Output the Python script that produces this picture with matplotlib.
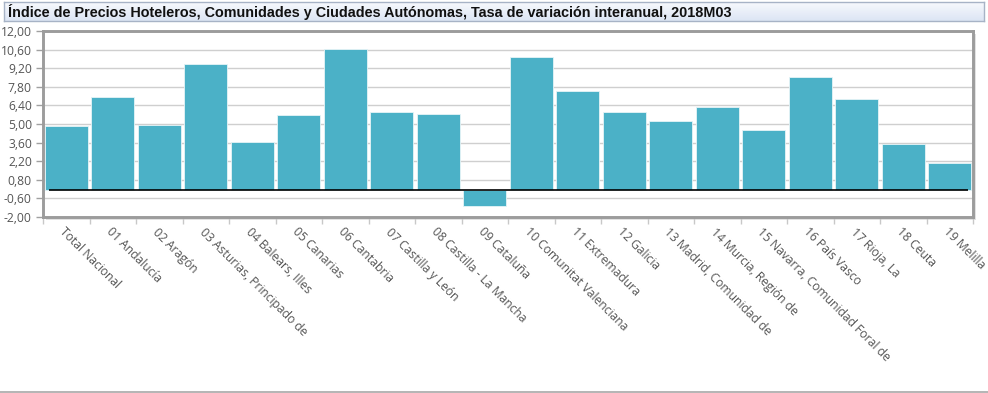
import numpy as np
import matplotlib
matplotlib.use('Agg')
import matplotlib.pyplot as plt
from matplotlib.patches import Rectangle
from matplotlib.ticker import FixedLocator
from matplotlib.colors import LinearSegmentedColormap

# data (tasa de variacion interanual, %)
regiones = ['Total Nacional', '01 Andalucía', '02 Aragón',
            '03 Asturias, Principado de', '04 Balears, Illes', '05 Canarias',
            '06 Cantabria', '07 Castilla y León', '08 Castilla - La Mancha',
            '09 Cataluña', '10 Comunitat Valenciana', '11 Extremadura',
            '12 Galicia', '13 Madrid, Comunidad de', '14 Murcia, Región de',
            '15 Navarra, Comunidad Foral de', '16 País Vasco', '17 Rioja, La',
            '18 Ceuta', '19 Melilla']
variacion = [4.83, 7.0, 4.94, 9.5, 3.62, 5.64, 10.62, 5.87, 5.72, -1.15,
             10.02, 7.46, 5.94, 5.19, 6.25, 4.58, 8.52, 6.85, 3.47, 2.05]
y_ticks = [-2.0, -0.6, 0.8, 2.2, 3.6, 5.0, 6.4, 7.8, 9.2, 10.6, 12.0]
titulo = 'Índice de Precios Hoteleros, Comunidades y Ciudades Autónomas, Tasa de variación interanual, 2018M03'

W, H = 988, 393
fig = plt.figure(figsize=(W / 100, H / 100), dpi=100)

# plot area in pixels: x 43..973, y 31..217
x0, x1, y0, y1 = 43, 973, 31, 217
pos = [x0 / W, 1 - y1 / H, (x1 - x0) / W, (y1 - y0) / H]

# shadow behind the frame (its own axes, drawn first)
sax = fig.add_axes([pos[0] + 3 / W, pos[1] - 3 / H, pos[2], pos[3]])
sax.axis('off')
sax.add_patch(Rectangle((0, 0), 1, 1, transform=sax.transAxes, color='#e2e2e2'))

ax = fig.add_axes(pos)
ax.set_facecolor('white')
x = np.arange(len(regiones))
ax.bar(x, variacion, width=0.93, color='#4bb1c7', edgecolor='#e6f4f7',
       linewidth=0.6, zorder=2)
ax.hlines(0, -0.37, len(regiones) - 0.61, color='black', linewidth=1.2, zorder=3)

ax.set_xlim(-0.5, len(regiones) - 0.5)
ax.set_ylim(-2, 12)
ax.set_yticks(y_ticks)
ax.set_yticklabels([('%.2f' % v).replace('.', ',') for v in y_ticks])
ax.grid(axis='y', color='#cfcfcf', linewidth=1, zorder=0)
ax.set_axisbelow(True)

ax.set_xticks(x)
ax.set_xticklabels(regiones, rotation=-45, ha='left', va='top',
                   rotation_mode='anchor')
ax.xaxis.set_minor_locator(FixedLocator(np.arange(-0.5, len(regiones), 1)))
ax.tick_params(axis='x', which='major', length=0, pad=6)
ax.tick_params(axis='x', which='minor', length=5, color='#c8c8c8', width=1)
ax.tick_params(axis='y', length=5, color='#a0a0a0', width=1, pad=3)
for lab in ax.get_xticklabels() + ax.get_yticklabels():
    lab.set_fontfamily('Open Sans')
    lab.set_fontsize(8.7)
    lab.set_color('#555555')

for side in ax.spines.values():
    side.set_color('#9c9c9c')
    side.set_linewidth(2.1)

# title box with a soft gradient
tax = fig.add_axes([4 / W, 1 - 21 / H, 980 / W, 19 / H])
grad = np.linspace(0, 1, 50).reshape(-1, 1)
cmap = LinearSegmentedColormap.from_list('t', ['#f7f9fd', '#dce5f4'])
tax.imshow(grad, aspect='auto', cmap=cmap, extent=[0, 1, 0, 1])
tax.set_xticks([])
tax.set_yticks([])
for side in tax.spines.values():
    side.set_color('#a7b3c6')
    side.set_linewidth(1)
tax.text(4 / 980, 0.48, titulo, transform=tax.transAxes, ha='left', va='center',
         fontfamily='Liberation Sans', fontweight='bold', fontsize=10.35,
         color='#111111')

# line at the bottom of the panel
fig.add_artist(plt.Line2D([0, 1], [1.5 / H, 1.5 / H], color='#a8a8a8',
                          linewidth=1.2, transform=fig.transFigure))

fig.savefig('out.png', dpi=100)
